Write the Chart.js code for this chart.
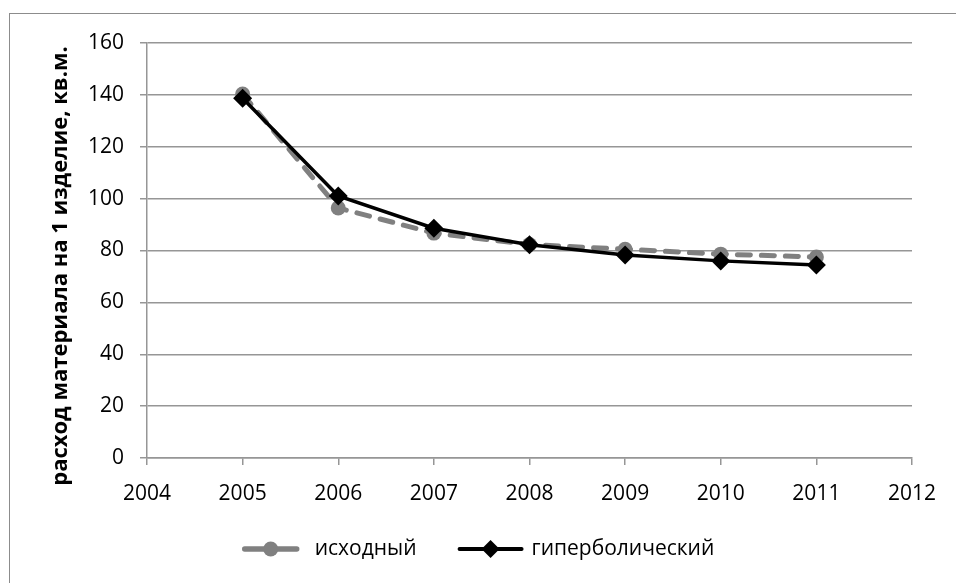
<!DOCTYPE html>
<html>
<head>
<meta charset="utf-8">
<script src="https://cdn.jsdelivr.net/npm/chart.js@4.4.0/dist/chart.umd.min.js"></script>
<style>
  html, body { margin: 0; padding: 0; background: #fff; }
  canvas { display: block; }
</style>
</head>
<body>
<canvas id="chart" width="956" height="583"></canvas>
<script>
const years = [2005, 2006, 2007, 2008, 2009, 2010, 2011];
const sourceValues = [140.3, 96.4, 86.7, 82.3, 80.5, 78.6, 77.5];
const hyperbolicValues = [138.7, 101, 88.6, 82.2, 78.3, 76, 74.4];
const seriesNames = ["исходный", "гиперболический"];
const xRange = [2004, 2012];
const yRange = [0, 160];
const yStep = 20;
const yTitle = "расход материала на 1 изделие, кв.м.";

const FONT = "'Open Sans', 'Liberation Sans', sans-serif";
const GRID = "#969696";
const GRAY = "#808080";

// legend entries: line with marker, then the name
function drawSwatch(ctx, x, y, len, color, width, marker) {
  ctx.strokeStyle = color;
  ctx.fillStyle = color;
  ctx.lineWidth = width;
  ctx.lineCap = "round";
  ctx.beginPath();
  ctx.moveTo(x + 3, y);
  ctx.lineTo(x + len - 3, y);
  ctx.stroke();
  const m = x + len / 2;
  ctx.beginPath();
  if (marker === "circle") {
    ctx.arc(m, y, 7.5, 0, Math.PI * 2);
  } else {
    ctx.moveTo(m, y - 9);
    ctx.lineTo(m + 9, y);
    ctx.lineTo(m, y + 9);
    ctx.lineTo(m - 9, y);
    ctx.closePath();
  }
  ctx.fill();
}

const extras = {
  id: "extras",
  beforeDraw(chart) {
    const ctx = chart.ctx;
    ctx.save();
    ctx.strokeStyle = "#8c8c8c";
    ctx.lineWidth = 1;
    ctx.strokeRect(9.5, 13.5, 1000, 700);
    ctx.restore();
  },
  afterDraw(chart) {
    const ctx = chart.ctx;
    ctx.save();
    // y axis title
    ctx.translate(61, 266);
    ctx.rotate(-Math.PI / 2);
    ctx.font = "bold 22px " + FONT;
    ctx.fillStyle = "#000";
    ctx.textAlign = "center";
    ctx.textBaseline = "middle";
    ctx.fillText(yTitle, 0, 0);
    ctx.restore();

    // legend
    ctx.save();
    ctx.font = "21px " + FONT;
    ctx.textBaseline = "middle";
    const entries = [
      { len: 58, gap: 15, color: GRAY, width: 5.5, marker: "circle" },
      { len: 68, gap: 7, color: "#000", width: 4, marker: "diamond" },
    ];
    const itemGap = 40, ly = 549;
    let total = itemGap;
    entries.forEach((e, i) => {
      e.tw = ctx.measureText(seriesNames[i]).width;
      total += e.len + e.gap + e.tw;
    });
    let x = 478 - total / 2;
    entries.forEach((e, i) => {
      drawSwatch(ctx, x, ly, e.len, e.color, e.width, e.marker);
      x += e.len + e.gap;
      ctx.fillStyle = "#000";
      ctx.fillText(seriesNames[i], x, ly);
      x += e.tw + itemGap;
    });
    ctx.restore();
  },
};

new Chart(document.getElementById("chart"), {
  type: "line",
  data: {
    datasets: [
      {
        label: seriesNames[0],
        data: years.map((y, i) => ({ x: y, y: sourceValues[i] })),
        borderColor: GRAY,
        backgroundColor: GRAY,
        borderWidth: 5,
        borderDash: [13, 11],
        borderCapStyle: "round",
        pointStyle: "circle",
        pointRadius: 7.5,
        pointBorderWidth: 0,
        order: 1,
      },
      {
        label: seriesNames[1],
        data: years.map((y, i) => ({ x: y, y: hyperbolicValues[i] })),
        borderColor: "#000",
        backgroundColor: "#000",
        borderWidth: 3.5,
        pointStyle: "rectRot",
        pointRadius: 9.5,
        pointBorderWidth: 0,
        order: 0,
      },
    ],
  },
  options: {
    responsive: false,
    animation: false,
    devicePixelRatio: 1,
    layout: { padding: { left: 0, right: 44, top: 43, bottom: 70 } },
    plugins: {
      tooltip: { enabled: false },
      legend: { display: false },
    },
    scales: {
      x: {
        type: "linear",
        min: xRange[0],
        max: xRange[1],
        afterFit: (s) => { s.height = 55; },
        ticks: {
          stepSize: 1,
          color: "#000",
          padding: 16,
          font: { family: FONT, size: 21 },
          callback: (v) => String(v),
          maxRotation: 0,
        },
        grid: { drawOnChartArea: false, color: GRID, tickLength: 7, lineWidth: 1.5 },
        border: { color: GRID, width: 1.5 },
      },
      y: {
        min: yRange[0],
        max: yRange[1],
        afterFit: (s) => { s.width = 147; },
        ticks: {
          stepSize: yStep,
          color: "#000",
          padding: 16,
          font: { family: FONT, size: 21 },
        },
        grid: { color: GRID, tickLength: 7, lineWidth: 1.5 },
        border: { color: GRID, width: 1.5 },
      },
    },
  },
  plugins: [extras],
});
</script>
</body>
</html>
